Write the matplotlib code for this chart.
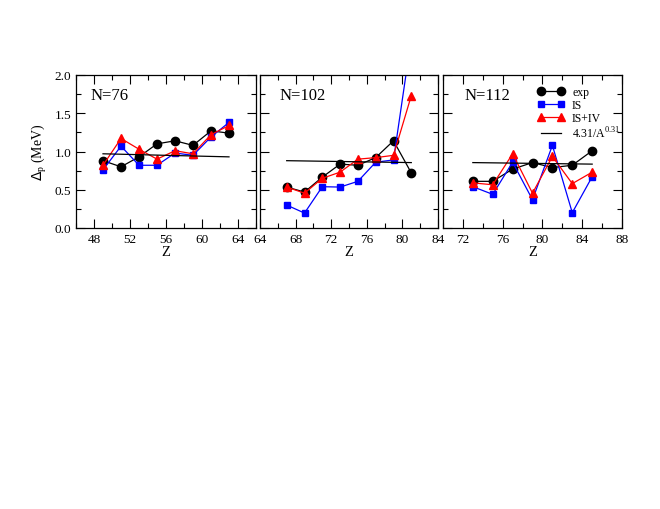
import numpy as np
import matplotlib
matplotlib.use('Agg')
import matplotlib.pyplot as plt
from matplotlib.ticker import MultipleLocator

plt.rcParams['font.family'] = ['Liberation Serif', 'DejaVu Serif']

# N=76
z76 = [49, 51, 53, 55, 57, 59, 61, 63]
exp76 = [0.88, 0.80, 0.93, 1.10, 1.14, 1.08, 1.27, 1.24]
is76 = [0.76, 1.07, 0.82, 0.82, 0.98, 0.95, 1.19, 1.38]
isiv76 = [0.82, 1.17, 1.03, 0.90, 1.01, 0.97, 1.22, 1.34]
fitz76 = [49, 63]
fit76 = [0.97, 0.93]

# N=102
z102 = [67, 69, 71, 73, 75, 77, 79, 81]
exp102 = [0.535, 0.47, 0.665, 0.835, 0.82, 0.92, 1.14, 0.72]
is102 = [0.30, 0.195, 0.54, 0.535, 0.61, 0.86, 0.89, 2.48]
isiv102 = [0.535, 0.455, 0.65, 0.73, 0.90, 0.92, 0.95, 1.73]
fitz102 = [67, 81]
fit102 = [0.88, 0.855]

# N=112
z112 = [73, 75, 77, 79, 81, 83, 85]
exp112 = [0.61, 0.61, 0.77, 0.855, 0.79, 0.82, 1.01]
is112 = [0.54, 0.44, 0.86, 0.37, 1.08, 0.20, 0.67]
isiv112 = [0.59, 0.565, 0.97, 0.455, 0.935, 0.58, 0.73]
fitz112 = [73, 85]
fit112 = [0.855, 0.835]

panels = [
    ('N=76', z76, exp76, is76, isiv76, fitz76, fit76, (46, 66), range(48, 65, 4), 0.078),
    ('N=102', z102, exp102, is102, isiv102, fitz102, fit102, (64, 84), range(64, 85, 4), 0.11),
    ('N=112', z112, exp112, is112, isiv112, fitz112, fit112, (70, 88), range(72, 89, 4), 0.12),
]

W, H = 660, 510
fig = plt.figure(figsize=(6.6, 5.1), dpi=100)
boxes = [(76, 180), (260, 178), (443, 179)]
top, bot = 76, 229

for i, (p, box) in enumerate(zip(panels, boxes)):
    name, z, ex, iso, isiv, fz, fv, xl, xt, tx = p
    ax = fig.add_axes([box[0] / W, 1 - bot / H, box[1] / W, (bot - top) / H])
    ax.plot(z, ex, color='black', marker='o', ms=6, lw=0.9, label='exp')
    ax.plot(z, iso, color='blue', marker='s', ms=5, lw=0.9, label='IS')
    ax.plot(z, isiv, color='red', marker='^', ms=6, lw=0.9, label='IS+IV')
    ax.plot(fz, fv, color='black', lw=0.9, label='4.31/A$^\\mathregular{0.31}$')
    ax.set_xlim(*xl)
    ax.set_ylim(0, 2.0)
    ax.set_xticks(list(xt))
    ax.xaxis.set_minor_locator(MultipleLocator(2))
    ax.yaxis.set_major_locator(MultipleLocator(0.5))
    ax.yaxis.set_minor_locator(MultipleLocator(0.25))
    ax.tick_params(which='both', direction='in', top=True, right=True, labelsize=9.5, width=0.8)
    ax.tick_params(which='major', length=6.5)
    ax.tick_params(which='minor', length=3.5)
    ax.set_xlabel('Z', fontsize=10.5, labelpad=0)
    if i == 0:
        ax.set_ylabel('$\\Delta_\\mathregular{p}$ (MeV)', fontsize=10, labelpad=4)
        ax.set_yticklabels(['%.1f' % v for v in ax.get_yticks()])
    else:
        ax.set_yticklabels([])
    for s in ax.spines.values():
        s.set_linewidth(0.9)
    ax.text(tx, 0.87, name, transform=ax.transAxes, fontsize=12, va='center')
    if i == 2:
        ax.legend(loc='upper left', bbox_to_anchor=(0.53, 0.93), frameon=False,
                  numpoints=2, fontsize=8.5, handlelength=2.3, handletextpad=0.6,
                  labelspacing=0.1, borderpad=0, borderaxespad=0)

plt.savefig('out.png', dpi=100)
